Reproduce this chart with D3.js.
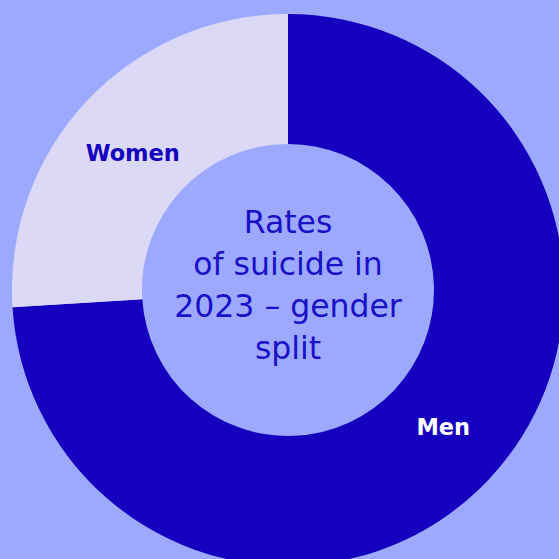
<!DOCTYPE html>
<html><head><meta charset="utf-8">
<script src="https://cdn.jsdelivr.net/npm/d3@7"></script>
<style>html,body{margin:0;padding:0;background:#9ca9fe;}svg{display:block;}</style>
</head><body>
<script>
const categories = ["Men", "Women"];
const values = [74, 26];
const colors = ["#1400be", "#dbd9f6"];
const labelColors = ["#ffffff", "#1400be"];
const centerLines = ["Rates", "of suicide in", "2023 – gender", "split"];

const W = 559, H = 559;
const cx = 288, cy = 290, rIn = 146, rOut = 276;
const svg = d3.select("body").append("svg").attr("width", W).attr("height", H);
svg.append("rect").attr("width", W).attr("height", H).attr("fill", "#9ca9fe");
const g = svg.append("g").attr("transform", `translate(${cx},${cy})`);

const data = categories.map((c, i) => ({cat: c, value: values[i], color: colors[i], lc: labelColors[i]}));
const pie = d3.pie().value(d => d.value).sort(null);
const arc = d3.arc().innerRadius(rIn).outerRadius(rOut);
const arcs = pie(data);
g.selectAll("path").data(arcs).join("path").attr("d", arc).attr("fill", d => d.data.color);

const labelArc = d3.arc().innerRadius(207).outerRadius(207);
const shift = -1.8 * Math.PI / 180;
g.selectAll("text.lbl").data(arcs).join("text").attr("class", "lbl")
  .attr("transform", d => `translate(${labelArc.centroid({startAngle: d.startAngle + shift, endAngle: d.endAngle + shift})})`)
  .attr("text-anchor", "middle").attr("dy", "0.36em")
  .attr("font-family", "'DejaVu Sans', sans-serif").attr("font-weight", 700).attr("font-size", 22.5)
  .attr("fill", d => d.data.lc).text(d => d.data.cat);

g.append("text").attr("text-anchor", "middle")
  .attr("font-family", "'DejaVu Sans', sans-serif").attr("font-weight", 400).attr("font-size", 31.5)
  .attr("fill", "#1a10c8")
  .selectAll("tspan").data(centerLines).join("tspan")
  .attr("x", 0).attr("y", (d, i) => -57 + i * 42).text(d => d);
</script>
</body></html>
